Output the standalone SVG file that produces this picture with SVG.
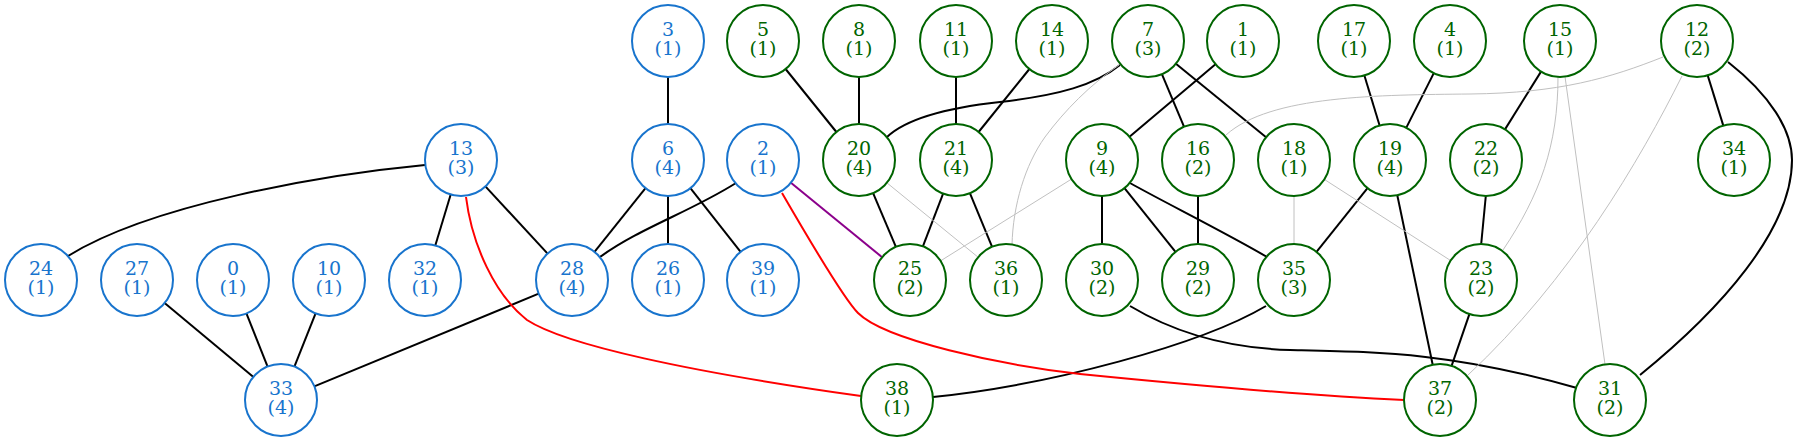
<svg xmlns="http://www.w3.org/2000/svg" width="1797" height="441" viewBox="0 0 1797 441">
<style>
.node circle{fill:#ffffff;stroke-width:2}
.node text{font-family:"DejaVu Serif","Liberation Serif",serif;font-size:19px;text-anchor:middle}
.blue circle{stroke:#1874CD}
.blue text{fill:#1874CD}
.green circle{stroke:#006400}
.green text{fill:#006400}
#edges path,#edges line{fill:none}
.k{stroke:#000000;stroke-width:2}
.g{stroke:#c0c0c0;stroke-width:1}
.r{stroke:#ff0000;stroke-width:2}
.p{stroke:#8B008B;stroke-width:2}
</style>
<rect x="0" y="0" width="1797" height="441" fill="#ffffff"/>
<g id="edges">
<line class="k" x1="668" y1="77" x2="668" y2="124"/>
<path class="k" d="M425,165 C320,175 150,205 68,256"/>
<line class="k" x1="450.7" y1="194.5" x2="435.3" y2="245.5"/>
<line class="k" x1="485.4" y1="186.4" x2="547.6" y2="253.6"/>
<line class="k" x1="645.5" y1="188.1" x2="594.5" y2="251.9"/>
<line class="k" x1="668" y1="196" x2="668" y2="244"/>
<line class="k" x1="690.4" y1="188.2" x2="740.6" y2="251.8"/>
<path class="k" d="M736,183 C690,212 640,228 600,257"/>
<line class="k" x1="164.6" y1="303" x2="253.4" y2="377"/>
<line class="k" x1="246.4" y1="313.4" x2="267.6" y2="366.6"/>
<line class="k" x1="315.6" y1="313.4" x2="294.4" y2="366.6"/>
<line class="k" x1="538.7" y1="293.7" x2="314.3" y2="386.3"/>
<line class="k" x1="785.6" y1="69" x2="836.4" y2="132"/>
<line class="k" x1="859" y1="77" x2="859" y2="124"/>
<path class="k" d="M1120,65 C1095,85 1060,95 1000,102 C945,108 905,120 887,137"/>
<line class="k" x1="956" y1="77" x2="956" y2="124"/>
<line class="k" x1="1029.4" y1="69" x2="978.6" y2="132"/>
<line class="k" x1="873.1" y1="193.1" x2="895.9" y2="246.9"/>
<line class="k" x1="943.1" y1="193.6" x2="922.9" y2="246.4"/>
<line class="k" x1="969.9" y1="193.2" x2="992.1" y2="246.8"/>
<line class="k" x1="1161.9" y1="74.2" x2="1184.1" y2="126.8"/>
<line class="k" x1="1175.9" y1="63.7" x2="1266.1" y2="137.3"/>
<line class="k" x1="1215.5" y1="64.2" x2="1129.5" y2="136.8"/>
<line class="k" x1="1102" y1="196" x2="1102" y2="244"/>
<line class="k" x1="1124.5" y1="188.1" x2="1175.5" y2="251.9"/>
<path class="k" d="M1130,183 C1160,200 1230,235 1267,257"/>
<line class="k" x1="1198" y1="196" x2="1198" y2="244"/>
<line class="k" x1="1364.4" y1="75.5" x2="1379.6" y2="125.5"/>
<line class="k" x1="1433.8" y1="73.1" x2="1406.2" y2="127.9"/>
<line class="k" x1="1367.5" y1="188.1" x2="1316.5" y2="251.9"/>
<line class="k" x1="1397.3" y1="195.2" x2="1432.7" y2="364.8"/>
<line class="k" x1="1541" y1="71.6" x2="1505" y2="129.4"/>
<line class="k" x1="1485.8" y1="196" x2="1481.2" y2="244"/>
<line class="k" x1="1469.4" y1="314.1" x2="1451.6" y2="365.9"/>
<line class="k" x1="1707.7" y1="75.4" x2="1723.3" y2="125.6"/>
<path class="k" d="M1728,62 C1770,95 1792,130 1792,160 C1792,230 1720,310 1640,375"/>
<path class="k" d="M1130,306 C1170,330 1220,348 1290,350 C1380,352 1450,352 1577,388"/>
<path class="k" d="M1266,306 C1200,345 1050,385 933,397"/>
<line class="g" x1="886.9" y1="182.8" x2="978.1" y2="257.2"/>
<path class="g" d="M1119,65 C1090,85 1065,110 1045,137 C1025,165 1013,205 1012,245"/>
<line class="g" x1="1071.5" y1="179.1" x2="940.5" y2="260.9"/>
<path class="g" d="M1663,57 C1610,78 1560,93 1470,94 C1380,95 1270,95 1226,135"/>
<line class="g" x1="1294" y1="196" x2="1294" y2="244"/>
<line class="g" x1="1324.3" y1="179.4" x2="1450.7" y2="260.6"/>
<path class="g" d="M1558,77 C1558,145 1540,195 1503,250"/>
<line class="g" x1="1565" y1="76.6" x2="1605" y2="364.4"/>
<path class="g" d="M1682,76 C1640,160 1570,280 1468,375"/>
<path class="r" d="M466,197 C472,245 495,295 527,320 C565,345 690,372 861,396"/>
<path class="r" d="M782,193 C815,250 845,300 858,313 C885,340 1000,365 1080,374 C1200,386 1320,396 1404,400"/>
<line class="p" x1="790.9" y1="182.8" x2="882.1" y2="257.2"/>
</g>
<g id="n0" class="node blue"><circle cx="233" cy="280" r="36"/><text x="233" y="275"><tspan x="233">0</tspan><tspan x="233" dy="19">(1)</tspan></text></g>
<g id="n1" class="node green"><circle cx="1243" cy="41" r="36"/><text x="1243" y="36"><tspan x="1243">1</tspan><tspan x="1243" dy="19">(1)</tspan></text></g>
<g id="n2" class="node blue"><circle cx="763" cy="160" r="36"/><text x="763" y="155"><tspan x="763">2</tspan><tspan x="763" dy="19">(1)</tspan></text></g>
<g id="n3" class="node blue"><circle cx="668" cy="41" r="36"/><text x="668" y="36"><tspan x="668">3</tspan><tspan x="668" dy="19">(1)</tspan></text></g>
<g id="n4" class="node green"><circle cx="1450" cy="41" r="36"/><text x="1450" y="36"><tspan x="1450">4</tspan><tspan x="1450" dy="19">(1)</tspan></text></g>
<g id="n5" class="node green"><circle cx="763" cy="41" r="36"/><text x="763" y="36"><tspan x="763">5</tspan><tspan x="763" dy="19">(1)</tspan></text></g>
<g id="n6" class="node blue"><circle cx="668" cy="160" r="36"/><text x="668" y="155"><tspan x="668">6</tspan><tspan x="668" dy="19">(4)</tspan></text></g>
<g id="n7" class="node green"><circle cx="1148" cy="41" r="36"/><text x="1148" y="36"><tspan x="1148">7</tspan><tspan x="1148" dy="19">(3)</tspan></text></g>
<g id="n8" class="node green"><circle cx="859" cy="41" r="36"/><text x="859" y="36"><tspan x="859">8</tspan><tspan x="859" dy="19">(1)</tspan></text></g>
<g id="n9" class="node green"><circle cx="1102" cy="160" r="36"/><text x="1102" y="155"><tspan x="1102">9</tspan><tspan x="1102" dy="19">(4)</tspan></text></g>
<g id="n10" class="node blue"><circle cx="329" cy="280" r="36"/><text x="329" y="275"><tspan x="329">10</tspan><tspan x="329" dy="19">(1)</tspan></text></g>
<g id="n11" class="node green"><circle cx="956" cy="41" r="36"/><text x="956" y="36"><tspan x="956">11</tspan><tspan x="956" dy="19">(1)</tspan></text></g>
<g id="n12" class="node green"><circle cx="1697" cy="41" r="36"/><text x="1697" y="36"><tspan x="1697">12</tspan><tspan x="1697" dy="19">(2)</tspan></text></g>
<g id="n13" class="node blue"><circle cx="461" cy="160" r="36"/><text x="461" y="155"><tspan x="461">13</tspan><tspan x="461" dy="19">(3)</tspan></text></g>
<g id="n14" class="node green"><circle cx="1052" cy="41" r="36"/><text x="1052" y="36"><tspan x="1052">14</tspan><tspan x="1052" dy="19">(1)</tspan></text></g>
<g id="n15" class="node green"><circle cx="1560" cy="41" r="36"/><text x="1560" y="36"><tspan x="1560">15</tspan><tspan x="1560" dy="19">(1)</tspan></text></g>
<g id="n16" class="node green"><circle cx="1198" cy="160" r="36"/><text x="1198" y="155"><tspan x="1198">16</tspan><tspan x="1198" dy="19">(2)</tspan></text></g>
<g id="n17" class="node green"><circle cx="1354" cy="41" r="36"/><text x="1354" y="36"><tspan x="1354">17</tspan><tspan x="1354" dy="19">(1)</tspan></text></g>
<g id="n18" class="node green"><circle cx="1294" cy="160" r="36"/><text x="1294" y="155"><tspan x="1294">18</tspan><tspan x="1294" dy="19">(1)</tspan></text></g>
<g id="n19" class="node green"><circle cx="1390" cy="160" r="36"/><text x="1390" y="155"><tspan x="1390">19</tspan><tspan x="1390" dy="19">(4)</tspan></text></g>
<g id="n20" class="node green"><circle cx="859" cy="160" r="36"/><text x="859" y="155"><tspan x="859">20</tspan><tspan x="859" dy="19">(4)</tspan></text></g>
<g id="n21" class="node green"><circle cx="956" cy="160" r="36"/><text x="956" y="155"><tspan x="956">21</tspan><tspan x="956" dy="19">(4)</tspan></text></g>
<g id="n22" class="node green"><circle cx="1486" cy="160" r="36"/><text x="1486" y="155"><tspan x="1486">22</tspan><tspan x="1486" dy="19">(2)</tspan></text></g>
<g id="n23" class="node green"><circle cx="1481" cy="280" r="36"/><text x="1481" y="275"><tspan x="1481">23</tspan><tspan x="1481" dy="19">(2)</tspan></text></g>
<g id="n24" class="node blue"><circle cx="41" cy="280" r="36"/><text x="41" y="275"><tspan x="41">24</tspan><tspan x="41" dy="19">(1)</tspan></text></g>
<g id="n25" class="node green"><circle cx="910" cy="280" r="36"/><text x="910" y="275"><tspan x="910">25</tspan><tspan x="910" dy="19">(2)</tspan></text></g>
<g id="n26" class="node blue"><circle cx="668" cy="280" r="36"/><text x="668" y="275"><tspan x="668">26</tspan><tspan x="668" dy="19">(1)</tspan></text></g>
<g id="n27" class="node blue"><circle cx="137" cy="280" r="36"/><text x="137" y="275"><tspan x="137">27</tspan><tspan x="137" dy="19">(1)</tspan></text></g>
<g id="n28" class="node blue"><circle cx="572" cy="280" r="36"/><text x="572" y="275"><tspan x="572">28</tspan><tspan x="572" dy="19">(4)</tspan></text></g>
<g id="n29" class="node green"><circle cx="1198" cy="280" r="36"/><text x="1198" y="275"><tspan x="1198">29</tspan><tspan x="1198" dy="19">(2)</tspan></text></g>
<g id="n30" class="node green"><circle cx="1102" cy="280" r="36"/><text x="1102" y="275"><tspan x="1102">30</tspan><tspan x="1102" dy="19">(2)</tspan></text></g>
<g id="n31" class="node green"><circle cx="1610" cy="400" r="36"/><text x="1610" y="395"><tspan x="1610">31</tspan><tspan x="1610" dy="19">(2)</tspan></text></g>
<g id="n32" class="node blue"><circle cx="425" cy="280" r="36"/><text x="425" y="275"><tspan x="425">32</tspan><tspan x="425" dy="19">(1)</tspan></text></g>
<g id="n33" class="node blue"><circle cx="281" cy="400" r="36"/><text x="281" y="395"><tspan x="281">33</tspan><tspan x="281" dy="19">(4)</tspan></text></g>
<g id="n34" class="node green"><circle cx="1734" cy="160" r="36"/><text x="1734" y="155"><tspan x="1734">34</tspan><tspan x="1734" dy="19">(1)</tspan></text></g>
<g id="n35" class="node green"><circle cx="1294" cy="280" r="36"/><text x="1294" y="275"><tspan x="1294">35</tspan><tspan x="1294" dy="19">(3)</tspan></text></g>
<g id="n36" class="node green"><circle cx="1006" cy="280" r="36"/><text x="1006" y="275"><tspan x="1006">36</tspan><tspan x="1006" dy="19">(1)</tspan></text></g>
<g id="n37" class="node green"><circle cx="1440" cy="400" r="36"/><text x="1440" y="395"><tspan x="1440">37</tspan><tspan x="1440" dy="19">(2)</tspan></text></g>
<g id="n38" class="node green"><circle cx="897" cy="400" r="36"/><text x="897" y="395"><tspan x="897">38</tspan><tspan x="897" dy="19">(1)</tspan></text></g>
<g id="n39" class="node blue"><circle cx="763" cy="280" r="36"/><text x="763" y="275"><tspan x="763">39</tspan><tspan x="763" dy="19">(1)</tspan></text></g>
</svg>
